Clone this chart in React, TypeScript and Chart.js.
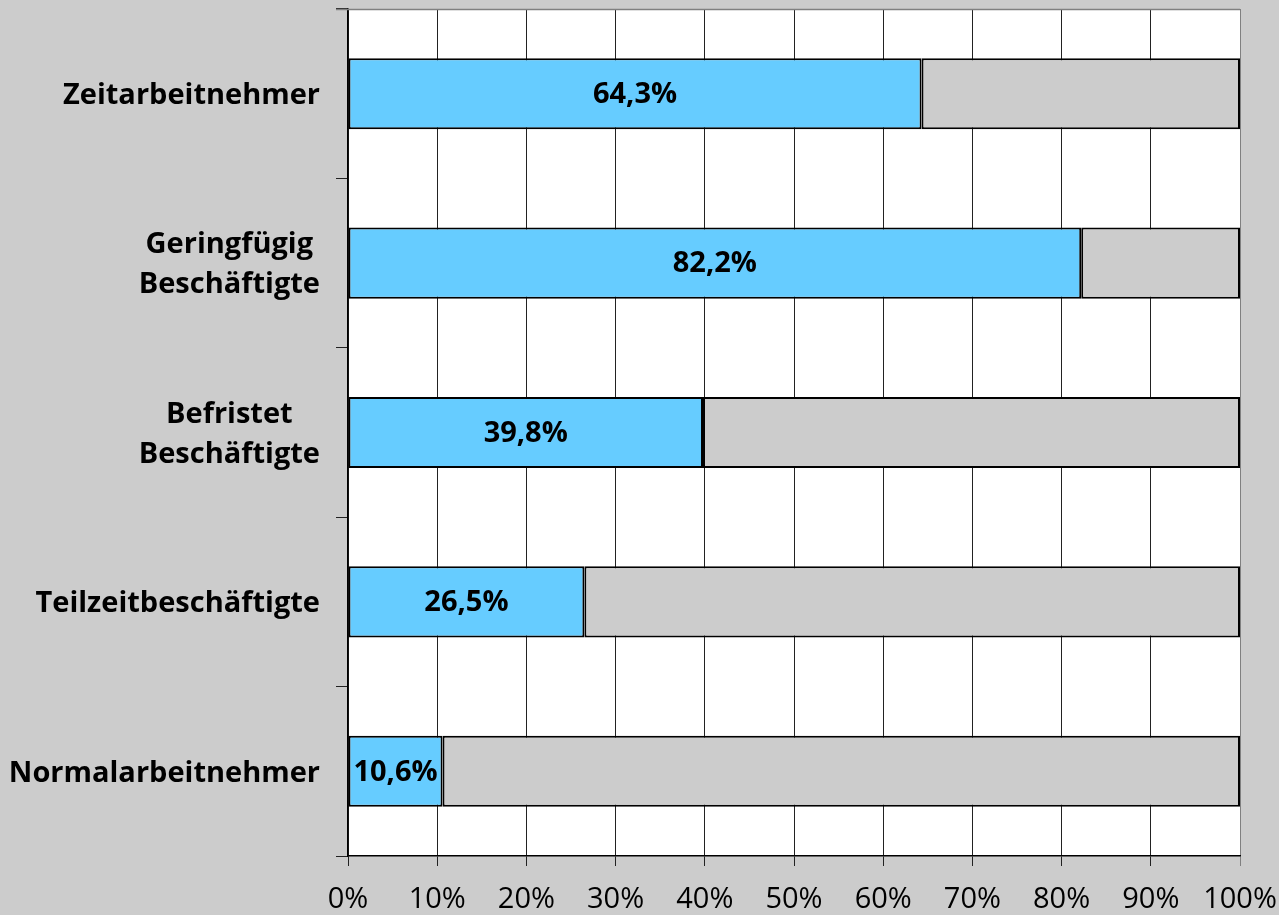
import React, { useEffect, useRef } from "react";
import { Chart, registerables } from "chart.js";

Chart.register(...registerables);

const categories: string[][] = [
  ["Zeitarbeitnehmer"],
  ["Geringfügig", "Beschäftigte"],
  ["Befristet", "Beschäftigte"],
  ["Teilzeitbeschäftigte"],
  ["Normalarbeitnehmer"],
];
const shares: number[] = [64.3, 82.2, 39.8, 26.5, 10.6];
const remainder: number[] = shares.map((v) => Math.round((100 - v) * 10) / 10);
const shareLabels: string[] = ["64,3%", "82,2%", "39,8%", "26,5%", "10,6%"];

const FONT = "'Open Sans', 'DejaVu Sans', sans-serif";
const TICK_FONT = "'Liberation Sans Narrow', 'Open Sans', sans-serif";

const bgPlugin = {
  id: "plotBg",
  beforeDraw(chart: any) {
    const { ctx, chartArea: a } = chart;
    ctx.save();
    ctx.fillStyle = "#ffffff";
    ctx.fillRect(a.left, a.top, a.right - a.left, a.bottom - a.top);
    ctx.restore();
  },
};

const decorPlugin = {
  id: "decor",
  afterDatasetsDraw(chart: any) {
    const ctx = chart.ctx;
    const area = chart.chartArea;
    const yScale = chart.scales.y;
    ctx.save();
    ctx.strokeStyle = "#808080";
    ctx.lineWidth = 1.5;
    ctx.beginPath();
    ctx.moveTo(area.left - 12, Math.round(area.top) + 0.5);
    ctx.lineTo(area.right, Math.round(area.top) + 0.5);
    ctx.stroke();

    const meta = chart.getDatasetMeta(0);
    ctx.fillStyle = "#000";
    ctx.font = `bold 29px ${FONT}`;
    ctx.textAlign = "center";
    ctx.textBaseline = "middle";
    meta.data.forEach((el: any, i: number) => {
      const cx = (el.base + el.x) / 2;
      ctx.fillText(shareLabels[i], cx, el.y + 1);
    });

    ctx.font = `bold 29px ${FONT}`;
    const lineH = 40;
    categories.forEach((lines, i) => {
      const cy = yScale.getPixelForValue(i) + 2;
      const widths = lines.map((l) => ctx.measureText(l).width);
      const maxW = Math.max(...widths);
      const centerX = 320 - maxW / 2;
      lines.forEach((l, j) => {
        const y = cy + (j - (lines.length - 1) / 2) * lineH;
        ctx.fillText(l, centerX, y);
      });
    });
    ctx.restore();
  },
};

export default function App() {
  const ref = useRef<HTMLCanvasElement | null>(null);
  useEffect(() => {
    if (!ref.current) return;
    const chart = new Chart(ref.current, {
      type: "bar",
      data: {
        labels: categories,
        datasets: [
          {
            data: shares,
            backgroundColor: "#66ccff",
            borderColor: "#000",
            borderWidth: 2,
            borderSkipped: false,
            barPercentage: 0.42,
            categoryPercentage: 1,
          },
          {
            data: remainder,
            backgroundColor: "#cccccc",
            borderColor: "#000",
            borderWidth: 2,
            borderSkipped: false,
            barPercentage: 0.42,
            categoryPercentage: 1,
          },
        ],
      },
      options: {
        indexAxis: "y",
        responsive: false,
        animation: false,
        layout: { padding: { top: 9, right: 39, left: 0, bottom: 0 } },
        plugins: {
          legend: { display: false },
          tooltip: { enabled: false },
        },
        scales: {
          x: {
            stacked: true,
            min: 0,
            max: 100,
            ticks: {
              stepSize: 10,
              callback: (v: any) => `${v}%`,
              color: "#000",
              font: { family: TICK_FONT, size: 29 },
              padding: 16,
              maxRotation: 0,
            },
            grid: {
              color: (c: any) => (c.tick && c.tick.value === 100 ? "#808080" : "#222"),
              lineWidth: 1,
              tickLength: 10,
            },
            border: { color: "#000", width: 1.5 },
            afterFit: (s: any) => {
              s.height = 59;
              s.paddingLeft = 0;
              s.paddingRight = 0;
            },
          },
          y: {
            stacked: true,
            ticks: { display: false },
            grid: {
              offset: true,
              drawOnChartArea: false,
              drawTicks: true,
              tickLength: 12,
              color: "#222",
            },
            border: { color: "#000", width: 1.5 },
            afterFit: (s: any) => {
              s.width = 348;
              s.paddingTop = 0;
              s.paddingBottom = 0;
            },
          },
        },
      },
      plugins: [bgPlugin, decorPlugin],
    } as any);
    return () => chart.destroy();
  }, []);
  return (
    <div
      style={{
        position: "fixed",
        left: 0,
        top: 0,
        width: 1279,
        height: 915,
        background: "#cccccc",
      }}
    >
      <canvas ref={ref} width={1279} height={915} />
    </div>
  );
}
